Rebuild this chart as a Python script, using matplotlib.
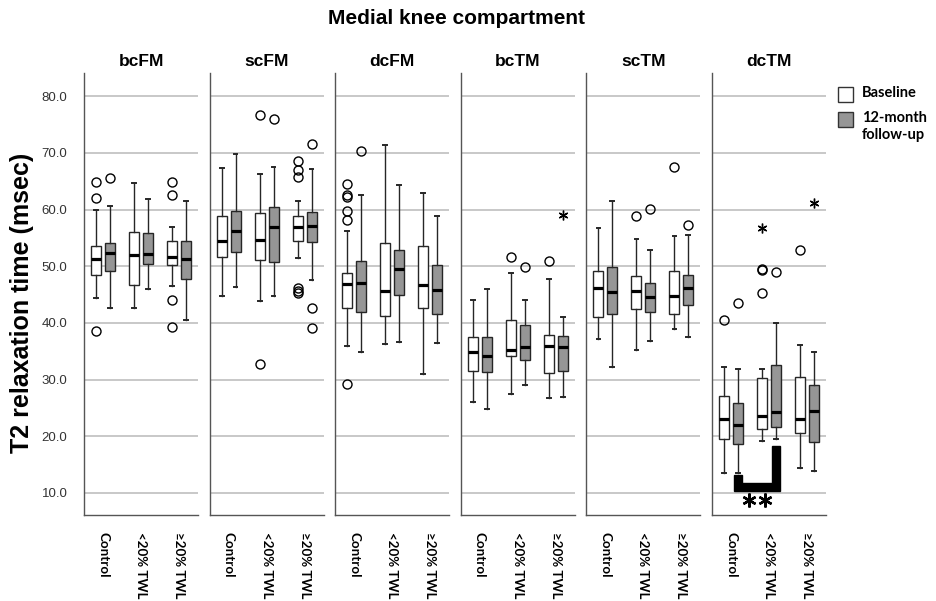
import numpy as np
import matplotlib
matplotlib.use("Agg")
import matplotlib.pyplot as plt
from matplotlib.patches import Polygon, Rectangle

plt.rcParams['font.family'] = ['Liberation Sans', 'DejaVu Sans']

# || Data: box stats, [whislo, q1, median, q3, whishi]
panels = ["bcFM", "scFM", "dcFM", "bcTM", "scTM", "dcTM"]
groups = ["Control", "<20% TWL", "\u226520% TWL"]

baseline = {
    "bcFM": [[44.4, 48.5, 51.2, 53.6, 60.0], [42.6, 46.7, 52.0, 56.0, 64.7], [46.5, 50.2, 51.6, 54.4, 57.0]],
    "scFM": [[44.7, 51.6, 54.4, 58.8, 67.3], [43.8, 51.1, 54.6, 59.4, 66.3], [51.5, 54.5, 56.9, 58.8, 61.6]],
    "dcFM": [[36.0, 42.6, 46.9, 48.8, 56.3], [36.3, 41.2, 45.6, 54.1, 71.4], [31.0, 42.6, 46.7, 53.5, 62.9]],
    "bcTM": [[26.0, 31.5, 34.8, 37.6, 44.1], [27.4, 34.1, 35.2, 40.5, 48.8], [26.8, 31.1, 35.9, 37.9, 47.8]],
    "scTM": [[37.1, 41.1, 46.1, 49.1, 56.8], [35.2, 42.4, 45.6, 48.2, 54.8], [38.9, 41.6, 44.8, 49.1, 55.4]],
    "dcTM": [[13.5, 19.6, 23.1, 27.1, 32.2], [19.1, 21.2, 23.6, 30.2, 31.9], [14.4, 20.5, 23.1, 30.5, 36.1]],
}
followup = {
    "bcFM": [[42.6, 49.1, 52.4, 54.1, 60.7], [46.0, 50.4, 52.1, 55.8, 61.8], [40.6, 47.8, 51.2, 54.4, 61.6]],
    "scFM": [[46.4, 52.6, 56.2, 59.7, 69.8], [44.8, 50.8, 56.9, 60.4, 67.5], [47.5, 54.2, 57.1, 59.5, 67.2]],
    "dcFM": [[34.8, 41.9, 47.0, 51.0, 62.6], [36.6, 45.0, 49.6, 52.9, 64.4], [36.4, 41.5, 45.8, 50.3, 58.8]],
    "bcTM": [[24.8, 31.3, 34.1, 37.5, 46.0], [29.1, 33.4, 35.7, 39.7, 44.1], [26.9, 31.6, 35.8, 37.7, 41.1]],
    "scTM": [[32.3, 41.5, 45.4, 49.8, 61.5], [36.8, 41.9, 44.6, 47.1, 52.9], [37.6, 43.2, 46.1, 48.5, 55.6]],
    "dcTM": [[13.5, 18.6, 21.9, 25.9, 31.8], [19.6, 21.6, 24.2, 32.5, 39.9], [13.9, 18.9, 24.4, 29.0, 34.8]],
}

# || Outliers (circles) and extremes (stars)
outliers_base = {
    "bcFM": [[64.9, 62.0, 38.6], [], [64.8, 62.6, 44.1, 39.2]],
    "scFM": [[], [76.7, 32.8], [68.5, 67.0, 65.7, 46.1, 45.6, 45.3]],
    "dcFM": [[64.6, 62.5, 62.2, 59.8, 58.2, 29.2], [], []],
    "bcTM": [[], [51.6], [51.0]],
    "scTM": [[], [58.9], [67.5]],
    "dcTM": [[40.6], [49.6, 49.4, 45.3], [52.9]],
}
outliers_fu = {
    "bcFM": [[65.5], [], []],
    "scFM": [[], [75.9], [71.5, 42.6, 39.1]],
    "dcFM": [[70.3], [], []],
    "bcTM": [[], [49.9], []],
    "scTM": [[], [60.1], [57.2]],
    "dcTM": [[43.5], [48.9], []],
}
extremes_base = {"dcTM": [[], [56.8], []]}
extremes_fu = {"bcTM": [[], [], [59.0]], "dcTM": [[], [], [61.1]]}

yticks = [10, 20, 30, 40, 50, 60, 70, 80]
ylim = (6.1, 84.1)
legend_labels = ["Baseline", "12-month\nfollow-up"]

GRAY = "#969696"
EDGE = "#262626"
LATO = ["Lato", "DejaVu Sans"]


def make_stats(rows, fliers):
    stats = []
    for r, f in zip(rows, fliers):
        stats.append(dict(whislo=r[0], q1=r[1], med=r[2], q3=r[3], whishi=r[4], fliers=f))
    return stats


def draw_set(ax, stats, pos, face):
    ax.bxp(stats, positions=pos, widths=0.26, capwidths=0.1, patch_artist=True,
           boxprops=dict(facecolor=face, edgecolor=EDGE, linewidth=1.0),
           medianprops=dict(color="black", linewidth=2.3, solid_capstyle="butt"),
           whiskerprops=dict(color=EDGE, linewidth=1.0),
           capprops=dict(color=EDGE, linewidth=1.4),
           flierprops=dict(marker="o", markerfacecolor="none", markeredgecolor="black",
                           markersize=6.5, markeredgewidth=1.0))


def draw_stars(ax, values, pos):
    for v, p in zip(values, pos):
        if v:
            ax.plot([p] * len(v), v, linestyle="none", marker=(6, 2, 0),
                    markersize=7, markeredgewidth=1.0, color="black")


fig = plt.figure(figsize=(9.36, 6.01), dpi=100)

W, H = 936.0, 601.0
left0, step, width = 84, 125.6, 114
bottom, top = 515, 73
centers = np.arange(3) + 0.5
off = 0.184

for i, name in enumerate(panels):
    ax = fig.add_axes([(left0 + i * step) / W, 1 - bottom / H, width / W, (bottom - top) / H])
    ax.set_xlim(0, 3)
    ax.set_ylim(*ylim)
    ax.set_axisbelow(True)
    ax.yaxis.grid(True, color="#b9b9b9", linewidth=1.1)
    for s in ["top", "right"]:
        ax.spines[s].set_visible(False)
    for s in ["left", "bottom"]:
        ax.spines[s].set_color("#555555")
        ax.spines[s].set_linewidth(1.0)

    pb = centers - off
    pf = centers + off
    draw_set(ax, make_stats(baseline[name], outliers_base[name]), pb, "white")
    draw_set(ax, make_stats(followup[name], outliers_fu[name]), pf, GRAY)
    draw_stars(ax, extremes_base.get(name, [[], [], []]), pb)
    draw_stars(ax, extremes_fu.get(name, [[], [], []]), pf)

    ax.set_title(name, fontsize=12.5, fontweight="bold", pad=5)
    ax.set_yticks(yticks)
    if i == 0:
        ax.set_yticklabels([f"{t:.1f}" for t in yticks], fontsize=9.5, color="#333333")
    else:
        ax.set_yticklabels([])
    ax.tick_params(axis="y", length=0, pad=12)
    ax.set_xticks(centers)
    ax.set_xticklabels(groups, rotation=270, fontsize=9.6, fontweight="bold",
                       family=LATO, va="top", ha="center")
    ax.tick_params(axis="x", length=0, pad=12)

    # significance bracket in dcTM (control vs <20% TWL follow-up)
    if name == "dcTM":
        xl, xr, hw = pf[0], pf[1], 0.11
        bracket = Polygon([(xl - hw, 13.1), (xl - hw, 10.4), (xr + hw, 10.4), (xr + hw, 18.2),
                           (xr - hw, 18.2), (xr - hw, 11.8), (xl + hw, 11.8), (xl + hw, 13.1)],
                          closed=True, facecolor="black", edgecolor="black")
        ax.add_patch(bracket)
        xm = (xl + xr) / 2
        ax.plot([xm - 0.22, xm + 0.22], [8.7, 8.7], linestyle="none", marker=(6, 2, 0),
                markersize=10, markeredgewidth=1.7, color="black")

fig.text(456 / W, 1 - 18 / H, "Medial knee compartment", fontsize=15, fontweight="bold",
         ha="center", va="center")
fig.text(22 / W, 1 - 303 / H, "T2 relaxation time (msec)", fontsize=18, fontweight="bold",
         rotation=90, ha="center", va="center")

# || Legend: squares with labels aligned to their top line
for k, (face, lab) in enumerate(zip(["white", GRAY], legend_labels)):
    y0 = 87 + k * 25
    fig.add_artist(Rectangle((838 / W, 1 - (y0 + 15) / H), 15 / W, 15 / H,
                             facecolor=face, edgecolor="#333333", linewidth=1.0,
                             transform=fig.transFigure))
    fig.text(862 / W, 1 - (y0 - 1) / H, lab, fontsize=10.5, fontweight="bold",
             family=LATO, ha="left", va="top", linespacing=1.25)

fig.savefig("out.png", dpi=100)
